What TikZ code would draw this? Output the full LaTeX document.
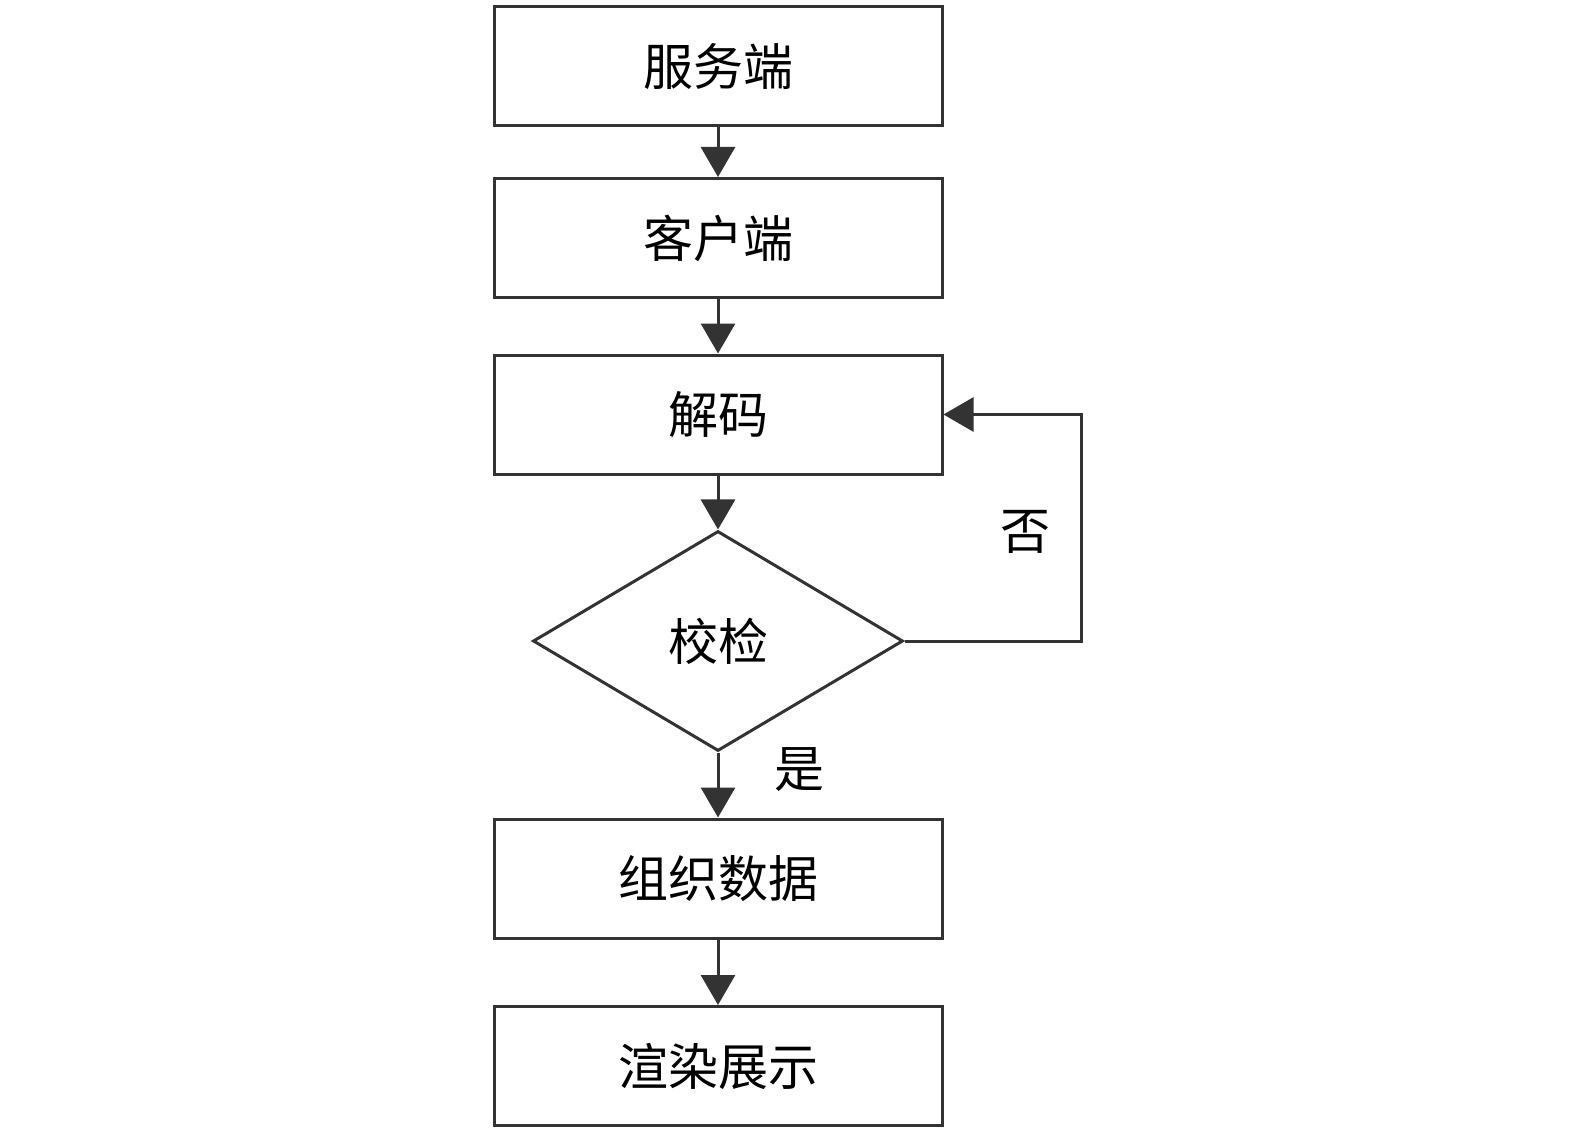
\documentclass[tikz,border=0pt]{standalone}
\usepackage{fontspec}
\newfontfamily\cjk{Noto Sans CJK SC}
\usetikzlibrary{shapes.geometric,arrows.meta}
\tikzset{
  box/.style={draw=black!80, line width=3pt, minimum width=448pt, minimum height=119pt, inner sep=0pt},
  dia/.style={draw=black!80, line width=3pt, diamond, minimum width=370pt, minimum height=220pt, inner sep=0pt, aspect=1.68},
  arr/.style={draw=black!80, fill=black!80, line width=3pt, -{Triangle[length=30pt,width=34pt,fill=black!80]}},
  lbl/.style={inner sep=0pt}}
\begin{document}
\begin{tikzpicture}[x=1pt,y=1pt,
  every node/.style={font=\cjk\fontsize{50pt}{58pt}\selectfont, text=black}]
\useasboundingbox (0,0) rectangle (1575,-1134);
\node[box] (s) at (718,-66.5) {服务端};
\node[box] (c) at (718,-238) {客户端};
\node[box] (d) at (718,-414.5) {解码};
\node[dia] (v) at (718,-641) {校检};
\node[box] (o) at (718,-878.5) {组织数据};
\node[box] (r) at (718,-1066) {渲染展示};
\coordinate (lb) at (1081,-641);
\coordinate (lt) at (1081,-414.5);
\draw[arr] (s) -- (c);
\draw[arr] (c) -- (d);
\draw[arr] (d) -- (v);
\draw[arr] (v) -- (o);
\draw[arr] (o) -- (r);
\draw[arr, fill=none] (v.east) -- (lb) -- (lt) -- (d.east);
\node[lbl] (no) at (1025,-532) {否};
\node[lbl] (yes) at (799,-770) {是};
\end{tikzpicture}
\end{document}
